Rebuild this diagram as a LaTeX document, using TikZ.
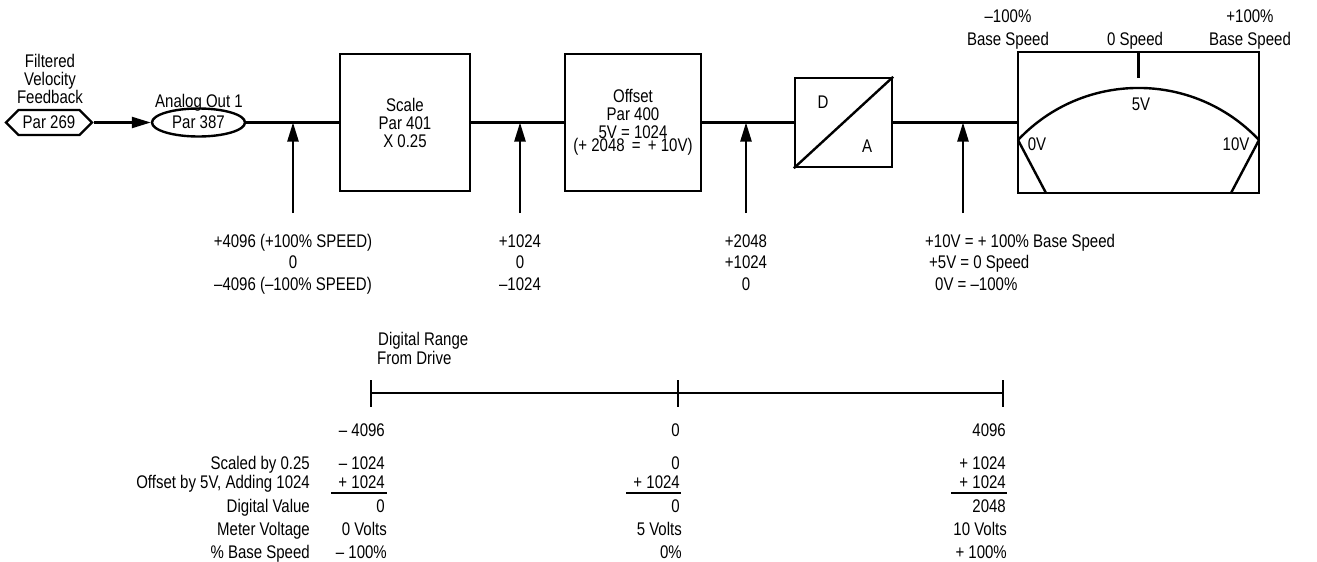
\documentclass[tikz,border=0pt]{standalone}
\usepackage{fontspec}
\setmainfont{Liberation Sans}[FakeStretch=0.82]
\usetikzlibrary{arrows.meta,shapes.geometric,shapes.symbols,calc}
\newcommand\fsz{\fontsize{18.3}{18}\selectfont}
\tikzset{
  ln/.style={line width=2.4pt},
  arr/.style={ln,-{Triangle[length=19pt,width=11pt]}},
  box/.style={draw,line width=2.4pt,inner sep=0pt,align=center,font=\fsz},
  txt/.style={inner sep=0pt,font=\fsz},
  rule/.style={line width=2pt},
}
\begin{document}
\begin{tikzpicture}[x=1pt,y=-1pt]
\useasboundingbox (0,0) rectangle (1317,562);
% ---- signal chain
\node[box,shape=signal,signal to=west and east,minimum width=86pt,minimum height=25pt] (src) at (49,122.5) {Par 269};
\node[box,ellipse,minimum width=93pt,minimum height=28pt] (ao) at (198.5,122.5) {Par 387};
\node[box,minimum width=130pt,minimum height=137pt] (sc) at (405,122.5) {Scale\\Par 401\\X 0.25};
\node[box,minimum width=136pt,minimum height=137pt] (of) at (633,122.5) {Offset\\Par 400\\5V = 1024\\[-5pt](+ 2048 \,=\, + 10V)};
\node[box,minimum width=97pt,minimum height=89pt] (da) at (843.5,122.5) {};
\node[box,minimum width=241pt,minimum height=141pt] (mt) at (1138.5,122.5) {};
\draw[ln] (da.south west) -- (da.north east);
\node[txt,anchor=base] (dl) at (823,108) {D};
\node[txt,anchor=base] (al) at (867,152) {A};
\draw[arr] (src.east) -- (ao.west);
\draw[ln] (ao.east) -- (sc.west);
\draw[ln] (sc.east) -- (of.west);
\draw[ln] (of.east) -- (da.west);
\draw[ln] (da.east) -- (mt.west);
% ---- meter face
\coordinate (m0) at (1018,140);
\coordinate (m1) at (1259,140);
\coordinate (b0) at (1046,193);
\coordinate (b1) at (1231,193);
\draw[ln] (m0) .. controls (1083.4,70.6) and (1193.6,70.6) .. (m1);
\draw[ln] (m0) -- (b0);
\draw[ln] (m1) -- (b1);
\draw[ln] (mt.north) -- ++(0,27);
\node[txt,anchor=base] (v0) at (1037,150) {0V};
\node[txt,anchor=base] (v10) at (1236,150) {10V};
\node[txt,anchor=base] (v5) at (1141,110) {5V};
\node[txt,anchor=base] (tl1) at (1008,23) {–100\%};
\node[txt,anchor=base] (tl2) at (1008,45) {Base Speed};
\node[txt,anchor=base] (tm) at (1135,45) {0 Speed};
\node[txt,anchor=base] (tr1) at (1250,23) {+100\%};
\node[txt,anchor=base] (tr2) at (1250,45) {Base Speed};
% ---- left labels
\node[txt,anchor=base] (f1) at (50,67) {Filtered};
\node[txt,anchor=base] (f2) at (50,85) {Velocity};
\node[txt,anchor=base] (f3) at (50,103) {Feedback};
\node[txt,anchor=base] (aol) at (199,107) {Analog Out 1};
% ---- test point arrows
\foreach \n/\x in {1/293,2/520,3/746,4/963}{
  \coordinate (p\n) at (\x,122.5);
  \coordinate (q\n) at (\x,213);
  \draw[arr] (q\n) -- (p\n);
}
% ---- values under arrows
\node[txt,anchor=base] (a1) at (293,247) {+4096 (+100\% SPEED)};
\node[txt,anchor=base] (a2) at (293,268) {0};
\node[txt,anchor=base] (a3) at (293,290) {–4096 (–100\% SPEED)};
\node[txt,anchor=base] (b1t) at (520,247) {+1024};
\node[txt,anchor=base] (b2t) at (520,268) {0};
\node[txt,anchor=base] (b3t) at (520,290) {–1024};
\node[txt,anchor=base] (c1) at (746,247) {+2048};
\node[txt,anchor=base] (c2) at (746,268) {+1024};
\node[txt,anchor=base] (c3) at (746,290) {0};
\node[txt,anchor=base west] (d1) at (925,247) {+10V = + 100\% Base Speed};
\node[txt,anchor=base west] (d2) at (929,268) {+5V = 0 Speed};
\node[txt,anchor=base west] (d3) at (935,290) {0V = –100\%};
% ---- digital range
\node[txt,anchor=base west] (dr1) at (378,345) {Digital Range};
\node[txt,anchor=base west] (dr2) at (377,364) {From Drive};
\coordinate (r0) at (371,393);
\coordinate (r1) at (678,393);
\coordinate (r2) at (1003,393);
\draw[ln] (r0) -- (r2);
\foreach \r in {r0,r1,r2}{ \draw[ln] ($(\r)+(0,-13)$) -- ($(\r)+(0,14)$); }
% ---- table
\node[txt,anchor=base east] (l1) at (310,469) {Scaled by 0.25};
\node[txt,anchor=base east] (l2) at (310,488) {Offset by 5V, Adding 1024};
\node[txt,anchor=base east] (l3) at (310,512) {Digital Value};
\node[txt,anchor=base east] (l4) at (310,535) {Meter Voltage};
\node[txt,anchor=base east] (l5) at (310,558) {\% Base Speed};
% column 1
\node[txt,anchor=base east] (k0) at (385,436) {– 4096};
\node[txt,anchor=base east] (k1) at (385,469) {– 1024};
\node[txt,anchor=base east] (k2) at (385,488) {+ 1024};
\node[txt,anchor=base east] (k3) at (385,512) {0};
\node[txt,anchor=base east] (k4) at (387,535) {0 Volts};
\node[txt,anchor=base east] (k5) at (387,558) {– 100\%};
\coordinate (u0a) at (331,493); \coordinate (u0b) at (387,493);
\draw[rule] (u0a) -- (u0b);
% column 2
\node[txt,anchor=base east] (m0t) at (680,436) {0};
\node[txt,anchor=base east] (m1t) at (680,469) {0};
\node[txt,anchor=base east] (m2t) at (680,488) {+ 1024};
\node[txt,anchor=base east] (m3t) at (680,512) {0};
\node[txt,anchor=base east] (m4t) at (682,535) {5 Volts};
\node[txt,anchor=base east] (m5t) at (682,558) {0\%};
\coordinate (u1a) at (626,493); \coordinate (u1b) at (681,493);
\draw[rule] (u1a) -- (u1b);
% column 3
\node[txt,anchor=base east] (n0t) at (1006,436) {4096};
\node[txt,anchor=base east] (n1t) at (1006,469) {+ 1024};
\node[txt,anchor=base east] (n2t) at (1006,488) {+ 1024};
\node[txt,anchor=base east] (n3t) at (1006,512) {2048};
\node[txt,anchor=base east] (n4t) at (1007,535) {10 Volts};
\node[txt,anchor=base east] (n5t) at (1007,558) {+ 100\%};
\coordinate (u2a) at (951,493); \coordinate (u2b) at (1007,493);
\draw[rule] (u2a) -- (u2b);
\end{tikzpicture}
\end{document}
